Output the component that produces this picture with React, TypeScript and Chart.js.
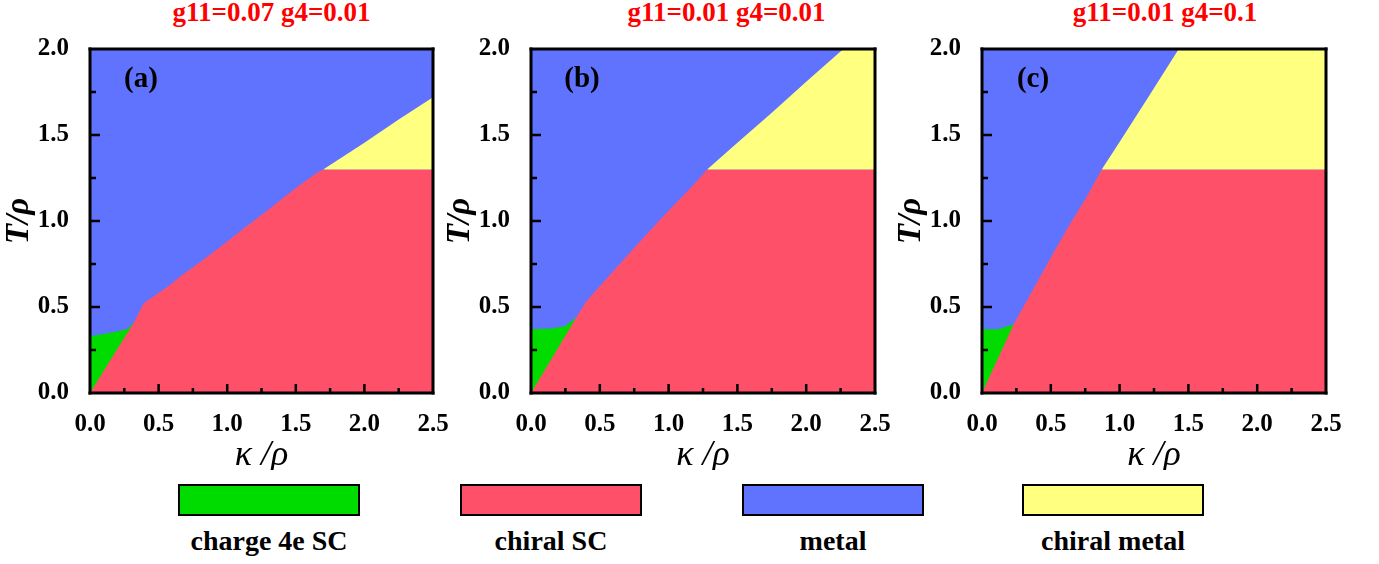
import React, { useEffect, useRef } from 'react';
import { Chart, registerables } from 'chart.js';
Chart.register(...registerables);

const FONT = "'Liberation Serif', 'Times New Roman', serif";

const GREEN = '#00DC00';
const RED = '#FF506A';
const BLUE = '#5F73FF';
const YELLOW = '#FFFF80';

// ---------- panel (a): g11=0.07 g4=0.01 ----------
const kGreenTopA = [0, 0.15, 0.27, 0.32];
const tGreenTopA = [0.33, 0.35, 0.37, 0.41];
const kRedTopA = [0, 0.17, 0.32, 0.39, 0.44, 0.56, 0.68, 0.8, 0.925, 1.046, 1.168, 1.29, 1.41, 1.53, 1.655, 1.7, 2.5];
const tRedTopA = [0, 0.22, 0.41, 0.52, 0.55, 0.615, 0.69, 0.76, 0.835, 0.91, 0.985, 1.06, 1.135, 1.21, 1.28, 1.3, 1.3];
const kYellowA = [1.7, 2.0, 2.25, 2.5];
const tYellowA = [1.3, 1.455, 1.59, 1.72];

// ---------- panel (b): g11=0.01 g4=0.01 ----------
const kGreenTopB = [0, 0.15, 0.25, 0.33];
const tGreenTopB = [0.37, 0.375, 0.39, 0.44];
const kRedTopB = [0, 0.33, 0.4, 0.5, 0.7, 0.94, 1.18, 1.28, 2.5];
const tRedTopB = [0, 0.44, 0.53, 0.62, 0.8, 1.01, 1.21, 1.3, 1.3];
const kYellowB = [1.28, 1.5, 1.75, 2.0, 2.27, 2.5];
const tYellowB = [1.3, 1.455, 1.63, 1.81, 2.0, 2.0];

// ---------- panel (c): g11=0.01 g4=0.1 ----------
const kGreenTopC = [0, 0.12, 0.23];
const tGreenTopC = [0.37, 0.37, 0.4];
const kRedTopC = [0, 0.23, 0.39, 0.515, 0.637, 0.76, 0.87, 2.5];
const tRedTopC = [0, 0.4, 0.63, 0.81, 0.98, 1.14, 1.3, 1.3];
const kYellowC = [0.87, 1.0, 1.2, 1.43, 2.5];
const tYellowC = [1.3, 1.46, 1.71, 2.0, 2.0];

const kBlue = [0, 2.5];
const tBlue = [2.0, 2.0];
const yellowBase = 1.3;

const xTickValues = [0, 0.5, 1.0, 1.5, 2.0, 2.5];
const yTickValues = [0, 0.5, 1.0, 1.5, 2.0];

const legendLabels = ['charge 4e SC', 'chiral SC', 'metal', 'chiral metal'];
const legendColors = [GREEN, RED, BLUE, YELLOW];

const titles = ['g11=0.07 g4=0.01', 'g11=0.01 g4=0.01', 'g11=0.01 g4=0.1'];
const panelLabels = ['(a)', '(b)', '(c)'];

function pts(k: number[], t: number[]) {
  return k.map((x, i) => ({ x, y: t[i] }));
}

const panelData = [
  { green: pts(kGreenTopA, tGreenTopA), red: pts(kRedTopA, tRedTopA), yellow: pts(kYellowA, tYellowA) },
  { green: pts(kGreenTopB, tGreenTopB), red: pts(kRedTopB, tRedTopB), yellow: pts(kYellowB, tYellowB) },
  { green: pts(kGreenTopC, tGreenTopC), red: pts(kRedTopC, tRedTopC), yellow: pts(kYellowC, tYellowC) },
];

// layout (pixels)
const plotLefts = [90, 531, 982];
const plotRights = [433, 875, 1326];
const titleCenters = [271.5, 726.5, 1165];
const legendLefts = [178, 460, 742, 1022];

function framePlugin(label: string) {
  return {
    id: 'frameTicks',
    afterDraw(chart: any) {
      const { ctx, chartArea: a, scales } = chart;
      const xs = scales.x;
      const ys = scales.y;
      ctx.save();
      ctx.fillStyle = '#000';
      for (let i = 1; i < 10; i++) {
        const px = xs.getPixelForValue(i * 0.25);
        const len = i % 2 === 0 ? 9 : 5;
        ctx.fillRect(px - 1.25, a.bottom - len, 2.5, len);
      }
      for (let i = 1; i < 8; i++) {
        const py = ys.getPixelForValue(i * 0.25);
        const len = i % 2 === 0 ? 10 : 6;
        ctx.fillRect(a.left, py - 1.25, len, 2.5);
      }
      const t = 3;
      ctx.fillRect(a.left - t / 2, a.top - t / 2, t, a.bottom - a.top + t);
      ctx.fillRect(a.right - t / 2, a.top - t / 2, t, a.bottom - a.top + t);
      ctx.fillRect(a.left - t / 2, a.top - t / 2, a.right - a.left + t, t);
      ctx.fillRect(a.left - t / 2, a.bottom - t / 2, a.right - a.left + t, t);
      ctx.font = `bold 29px ${FONT}`;
      ctx.textAlign = 'center';
      ctx.textBaseline = 'middle';
      ctx.fillText(label, a.left + 51, 80);
      ctx.restore();
    },
  };
}

function Panel({ idx }: { idx: number }) {
  const ref = useRef<HTMLCanvasElement>(null);
  const yAxisW = 90;
  const plotW = plotRights[idx] - plotLefts[idx];
  const canvasW = yAxisW + plotW + 20;
  const padRight = canvasW - yAxisW - plotW;
  const canvasLeft = plotLefts[idx] - 90;

  useEffect(() => {
    const d = panelData[idx];
    const chart = new Chart(ref.current as HTMLCanvasElement, {
      type: 'line',
      data: {
        datasets: [
          { data: d.yellow, backgroundColor: YELLOW, borderColor: 'transparent', borderWidth: 0, fill: { value: yellowBase } },
          { data: d.red, backgroundColor: RED, borderColor: 'transparent', borderWidth: 0, fill: 'origin' },
          { data: d.green, backgroundColor: GREEN, borderColor: 'transparent', borderWidth: 0, fill: 'origin' },
          { data: pts(kBlue, tBlue), backgroundColor: BLUE, borderColor: 'transparent', borderWidth: 0, fill: 'origin' },
        ],
      } as any,
      options: {
        animation: false,
        responsive: false,
        devicePixelRatio: 1,
        layout: { padding: { top: 49, right: padRight, left: 0, bottom: 0 } },
        elements: { point: { radius: 0 }, line: { borderWidth: 0, tension: 0 } },
        plugins: { legend: { display: false }, tooltip: { enabled: false }, title: { display: false } },
        scales: {
          x: {
            type: 'linear',
            min: 0,
            max: 2.5,
            grid: { display: false },
            border: { display: false },
            afterBuildTicks: (s: any) => { s.ticks = xTickValues.map((v) => ({ value: v })); },
            ticks: {
              color: '#000',
              padding: 9,
              maxRotation: 0,
              autoSkip: false,
              font: { family: FONT, size: 25, weight: 'bold' },
              callback: (v: any) => Number(v).toFixed(1),
            },
            title: {
              display: true,
              text: 'κ /ρ',
              color: '#000',
              font: { family: FONT, size: 36, style: 'italic', lineHeight: 0.8 },
              padding: { top: 0, bottom: 0 },
            },
            afterFit: (s: any) => { s.height = 77; s.paddingLeft = 0; s.paddingRight = 0; },
          },
          y: {
            type: 'linear',
            min: 0,
            max: 2,
            grid: { display: false },
            border: { display: false },
            afterBuildTicks: (s: any) => { s.ticks = yTickValues.map((v) => ({ value: v })); },
            ticks: {
              color: '#000',
              padding: 13,
              autoSkip: false,
              font: { family: FONT, size: 25, weight: 'bold' },
              callback: (v: any) => Number(v).toFixed(1),
            },
            title: {
              display: true,
              text: 'T/ρ',
              color: '#000',
              font: { family: FONT, size: 33, style: 'italic', weight: 'bold', lineHeight: 1 },
              padding: { top: 3, bottom: 0 },
            },
            afterFit: (s: any) => { s.width = yAxisW; s.paddingTop = 0; s.paddingBottom = 0; },
          },
        },
      } as any,
      plugins: [framePlugin(panelLabels[idx])],
    });
    return () => chart.destroy();
  }, []);

  return (
    <canvas
      ref={ref}
      width={canvasW}
      height={470}
      style={{ position: 'absolute', left: canvasLeft, top: 0 }}
    />
  );
}

export default function App() {
  useEffect(() => {
    document.body.style.margin = '0';
  }, []);
  return (
    <div
      style={{
        position: 'fixed',
        left: 0,
        top: 0,
        width: 1379,
        height: 564,
        background: '#fff',
        overflow: 'hidden',
      }}
    >
      {titles.map((t, i) => (
        <div
          key={t}
          style={{
            position: 'absolute',
            left: titleCenters[i] - 200,
            width: 400,
            top: -3,
            textAlign: 'center',
            font: `bold 27px ${FONT}`,
            lineHeight: '30px',
            color: '#FF0000',
            whiteSpace: 'nowrap',
          }}
        >
          {t}
        </div>
      ))}
      {[0, 1, 2].map((i) => (
        <Panel key={i} idx={i} />
      ))}
      {legendLabels.map((lab, i) => (
        <React.Fragment key={lab}>
          <div
            style={{
              position: 'absolute',
              left: legendLefts[i],
              top: 484,
              width: 182,
              height: 32,
              boxSizing: 'border-box',
              border: '2px solid #000',
              background: legendColors[i],
            }}
          />
          <div
            style={{
              position: 'absolute',
              left: legendLefts[i] + 91 - 150,
              width: 300,
              top: 526,
              textAlign: 'center',
              font: `bold 28px ${FONT}`,
              lineHeight: '30px',
              color: '#000',
              whiteSpace: 'nowrap',
            }}
          >
            {lab}
          </div>
        </React.Fragment>
      ))}
    </div>
  );
}
